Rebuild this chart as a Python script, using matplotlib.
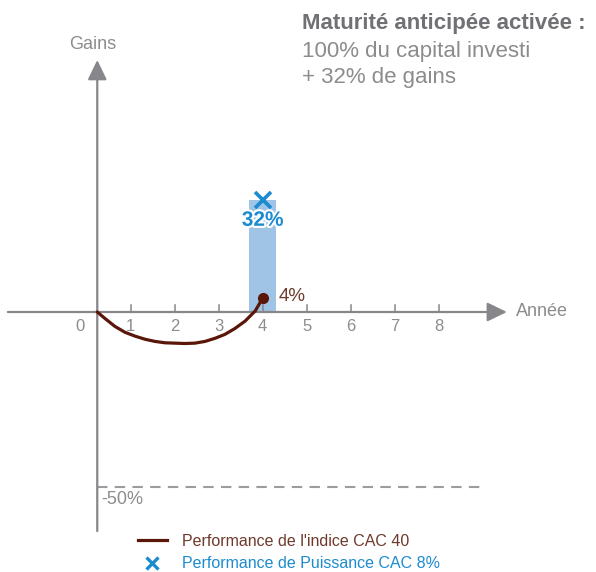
import matplotlib
matplotlib.use("Agg")
import matplotlib.pyplot as plt
from matplotlib.lines import Line2D
import matplotlib.patheffects as pe

plt.rcParams['font.family'] = ['Liberation Sans', 'DejaVu Sans']

# courbe de l'indice (années, performance en %)
annees_indice = [0.24, 0.42, 0.64, 0.87, 1.10, 1.33, 1.55, 1.78, 2.01, 2.23, 2.46,
                 2.69, 2.92, 3.14, 3.37, 3.60, 3.83, 4.0]
perf_indice = [0, -1.9, -4.1, -5.8, -6.9, -7.8, -8.4, -8.8, -8.9, -9.0, -8.9,
               -8.4, -7.5, -6.4, -4.7, -2.6, 0.3, 4]

# gain du produit à la maturité anticipée
annee_rappel = 4
gain_produit = 32
seuil_barriere = -50

annees_ticks = [1, 2, 3, 4, 5, 6, 7, 8]

GRIS_AXE = '#86868b'
GRIS_TXT = '#8c8c8e'
BRUN = '#5a1608'
BRUN_TXT = '#6e3a2c'
BLEU = '#1c8bd0'
BLEU_BARRE = '#a0c4e6'

fig = plt.figure(figsize=(5.96, 5.72), dpi=100)
ax = fig.add_axes([0, 0, 1, 1])
# 44 px par année, 3.5 px par point de %
ax.set_xlim(-86.7 / 44, (596 - 86.7) / 44)
ax.set_ylim((312 - 572) / 3.5, 312 / 3.5)
ax.axis('off')

x_axe_y = 0.24

# barre du gain
ax.bar(annee_rappel, gain_produit, width=0.62, color=BLEU_BARRE, zorder=1)

# axes avec flèches
fleche = dict(arrowstyle='-|>,head_length=0.6,head_width=0.29', mutation_scale=20,
              color=GRIS_AXE, lw=1.6, shrinkA=0, shrinkB=0)
ax.annotate('', xy=(9.55, 0), xytext=(-1.79, 0), arrowprops=fleche, zorder=2)
ax.annotate('', xy=(x_axe_y, 72), xytext=(x_axe_y, -62.6), arrowprops=fleche, zorder=2)

for t in annees_ticks:
    ax.plot([t, t], [0, 2.0], color=GRIS_AXE, lw=1.1, zorder=2)
    ax.text(t, -4.2, str(t), ha='center', va='center', fontsize=12, color=GRIS_TXT)
ax.text(-0.15, -4.2, '0', ha='center', va='center', fontsize=12, color=GRIS_TXT)

ax.text(9.75, 0, 'Année', ha='left', va='center', fontsize=13, color=GRIS_TXT)
ax.text(x_axe_y - 0.1, 76.5, 'Gains', ha='center', va='center', fontsize=13, color=GRIS_TXT)

# barrière -50 %
ax.plot([x_axe_y, 8.94], [seuil_barriere, seuil_barriere], color='#9c9c9e', lw=1.5,
        dashes=(5, 3.5), zorder=1)
ax.text(x_axe_y + 0.08, seuil_barriere - 3.5, f'{seuil_barriere}%', ha='left', va='center',
        fontsize=13, color=GRIS_TXT)

# performance de l'indice
ax.plot(annees_indice, perf_indice, color=BRUN, lw=2.3, solid_capstyle='round',
        solid_joinstyle='round', zorder=3)
ax.plot(annees_indice[-1], perf_indice[-1], 'o', color=BRUN, ms=7, zorder=4)
ax.text(annees_indice[-1] + 0.37, perf_indice[-1] + 0.4, f'{perf_indice[-1]}%', ha='left',
        va='center', fontsize=13.5, color=BRUN_TXT)

# performance du produit
ax.plot(annee_rappel, gain_produit, 'x', color=BLEU, ms=11, mew=2.6, zorder=4)
ax.text(annee_rappel, gain_produit - 5.8, f'{gain_produit}%', ha='center', va='center',
        fontsize=15, fontweight='bold', color=BLEU, zorder=5,
        path_effects=[pe.withStroke(linewidth=3, foreground='white')])

# encart en haut à droite
fig.text(302 / 596, 1 - 24 / 572, 'Maturité anticipée activée :', ha='left', va='center',
         fontsize=16, fontweight='bold', color='#707075')
fig.text(302 / 596, 1 - 51 / 572, '100% du capital investi', ha='left', va='center',
         fontsize=16, color=GRIS_TXT)
fig.text(302 / 596, 1 - 78 / 572, f'+ {gain_produit}% de gains', ha='left', va='center',
         fontsize=16, color=GRIS_TXT)

# légende
handles = [Line2D([], [], color=BRUN, lw=2.3),
           Line2D([], [], color=BLEU, marker='x', ls='none', ms=9, mew=2.4)]
labels = ["Performance de l'indice CAC 40", 'Performance de Puissance CAC 8%']
leg = fig.legend(handles, labels, loc='upper left', bbox_to_anchor=(138 / 596, 1 - 534 / 572),
                 frameon=False, fontsize=11.5, handlelength=1.8, handletextpad=0.95,
                 labelspacing=0.45, borderpad=0, borderaxespad=0)
for txt, c in zip(leg.get_texts(), [BRUN_TXT, BLEU]):
    txt.set_color(c)

fig.savefig('out.png', dpi=100)
